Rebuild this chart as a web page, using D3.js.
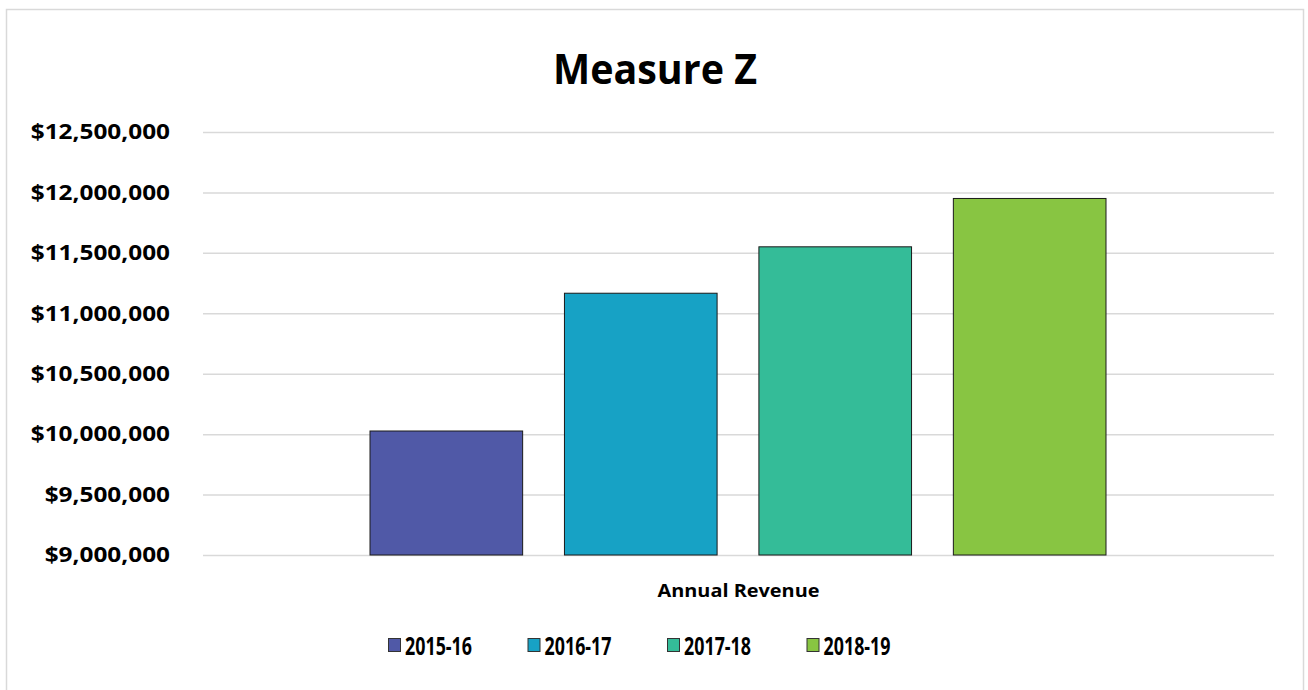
<!DOCTYPE html>
<html>
<head>
<meta charset="utf-8">
<script src="https://cdn.jsdelivr.net/npm/d3@7"></script>
<style>
  body { margin: 0; background: #fff; }
  text { font-family: "Open Sans", Lato, sans-serif; }
</style>
</head>
<body>
<div id="chart"></div>
<script>
const years = ["2015-16", "2016-17", "2017-18", "2018-19"];
const revenue = [10026000, 11166000, 11550000, 11950000];
const colors = ["#5059a7", "#17a2c5", "#34bc98", "#88c542"];
const category = "Annual Revenue";
const yTicks = [9000000, 9500000, 10000000, 10500000, 11000000, 11500000, 12000000, 12500000];

const width = 1308, height = 690;
const plot = { left: 203, right: 1274, top: 132, bottom: 555 };

const svg = d3.select("#chart").append("svg")
    .attr("width", width)
    .attr("height", height);

// outer frame
svg.append("rect")
    .attr("x", 6.5).attr("y", 9.5)
    .attr("width", 1297).attr("height", 700)
    .attr("fill", "none")
    .attr("stroke", "#d9d9d9")
    .attr("stroke-width", 1.5);

svg.append("text")
    .attr("x", 655).attr("y", 84)
    .attr("text-anchor", "middle")
    .attr("font-size", 42)
    .attr("font-weight", "bold")
    .attr("textLength", 204)
    .attr("lengthAdjust", "spacingAndGlyphs")
    .text("Measure Z");

const y = d3.scaleLinear()
    .domain([9000000, 12500000])
    .range([plot.bottom, plot.top]);

const outer = d3.scaleBand()
    .domain([category])
    .range([plot.left, plot.right]);

const inner = d3.scaleBand()
    .domain(years)
    .range([370, 1106])
    .paddingInner(0.215);

const fmt = d3.format("$,.0f");

const yAxis = svg.append("g")
    .attr("transform", `translate(${plot.left},0)`)
    .call(d3.axisLeft(y).tickValues(yTicks).tickFormat(fmt)
        .tickSize(-(plot.right - plot.left)).tickPadding(33));
yAxis.select(".domain").remove();
yAxis.selectAll(".tick line")
    .attr("stroke", "#d9d9d9")
    .attr("stroke-width", 1.5);
yAxis.selectAll(".tick text")
    .attr("font-size", 21)
    .attr("font-weight", "bold")
    .attr("fill", "#000")
    .style("font-family", "'Open Sans', sans-serif")
    .each(function() {
        // labels in the original are drawn a bit wider
        const w = this.getComputedTextLength();
        d3.select(this)
            .attr("textLength", w * 1.16)
            .attr("lengthAdjust", "spacingAndGlyphs");
    });

svg.append("g")
    .selectAll("rect")
    .data(years)
    .join("rect")
    .attr("x", d => inner(d))
    .attr("y", (d, i) => y(revenue[i]))
    .attr("width", inner.bandwidth())
    .attr("height", (d, i) => y(9000000) - y(revenue[i]))
    .attr("fill", (d, i) => colors[i])
    .attr("stroke", "#1a1a1a")
    .attr("stroke-width", 1);

svg.append("text")
    .attr("x", outer(category) + outer.bandwidth() / 2)
    .attr("y", 597)
    .attr("text-anchor", "middle")
    .attr("font-size", 18)
    .attr("font-weight", "bold")
    .attr("textLength", 162)
    .attr("lengthAdjust", "spacingAndGlyphs")
    .text(category);

const legend = svg.append("g")
    .selectAll("g")
    .data(years)
    .join("g")
    .attr("transform", (d, i) => `translate(${388 + i * 139.5},645)`);

legend.append("rect")
    .attr("x", 0.5).attr("y", -6.5)
    .attr("width", 12).attr("height", 13)
    .attr("fill", (d, i) => colors[i])
    .attr("stroke", "#333")
    .attr("stroke-width", 1);

legend.append("text")
    .attr("x", 17)
    .attr("y", 9.5)
    .attr("font-size", 25)
    .attr("font-weight", "bold")
    .attr("textLength", 67)
    .attr("lengthAdjust", "spacingAndGlyphs")
    .text(d => d);
</script>
</body>
</html>
